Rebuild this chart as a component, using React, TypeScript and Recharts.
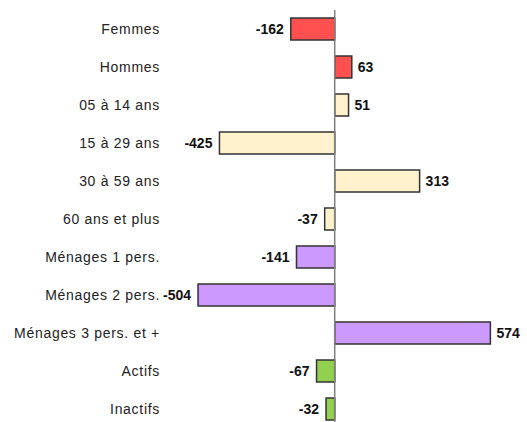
import React from 'react';
import { BarChart, Bar, XAxis, YAxis, Cell, LabelList, ReferenceLine } from 'recharts';

const categories = [
  'Femmes',
  'Hommes',
  '05 à 14 ans',
  '15 à 29 ans',
  '30 à 59 ans',
  '60 ans et plus',
  'Ménages 1 pers.',
  'Ménages 2 pers.',
  'Ménages 3 pers. et +',
  'Actifs',
  'Inactifs',
];

const values = [-162, 63, 51, -425, 313, -37, -141, -504, 574, -67, -32];

// one colour per group of categories
const groups = [0, 0, 1, 1, 1, 1, 2, 2, 2, 3, 3];
const groupColors = ['#FF5050', '#FFF2CC', '#CC99FF', '#92D050'];

const data = categories.map((name, i) => ({ name, value: values[i], group: groups[i] }));

const FONT = '"Liberation Sans", Arial, sans-serif';

const CategoryTick = ({ x, y, payload }: any) => (
  <text
    x={x - 4}
    y={y}
    dy={5}
    textAnchor="end"
    fontFamily={FONT}
    fontSize={14}
    letterSpacing={0.7}
    fill="#222"
  >
    {payload.value}
  </text>
);

const ValueLabel = ({ x, y, width, height, value }: any) => {
  const left = Math.min(x, x + width);
  const right = Math.max(x, x + width);
  const neg = value < 0;
  return (
    <text
      x={neg ? left - 7 : right + 6}
      y={y + height / 2}
      dy={5}
      textAnchor={neg ? 'end' : 'start'}
      fontFamily={FONT}
      fontSize={14}
      fontWeight="bold"
      fill="#111"
    >
      {value}
    </text>
  );
};

export default function App() {
  return (
    <div style={{ position: 'absolute', left: 0, top: 0, background: '#fff' }}>
      <BarChart
        width={527}
        height={440}
        layout="vertical"
        data={data}
        margin={{ top: 10, right: 16, bottom: 12, left: 0 }}
      >
        <XAxis type="number" domain={[-600, 650]} hide />
        <YAxis
          type="category"
          dataKey="name"
          width={172}
          axisLine={false}
          tickLine={false}
          tick={<CategoryTick />}
          interval={0}
        />
        <Bar dataKey="value" barSize={22} stroke="#333" strokeWidth={1.5} isAnimationActive={false}>
          {data.map((d, i) => (
            <Cell key={i} fill={groupColors[d.group]} />
          ))}
          <LabelList dataKey="value" content={<ValueLabel />} />
        </Bar>
        <ReferenceLine x={0} stroke="#808080" strokeWidth={1.5} />
      </BarChart>
    </div>
  );
}
